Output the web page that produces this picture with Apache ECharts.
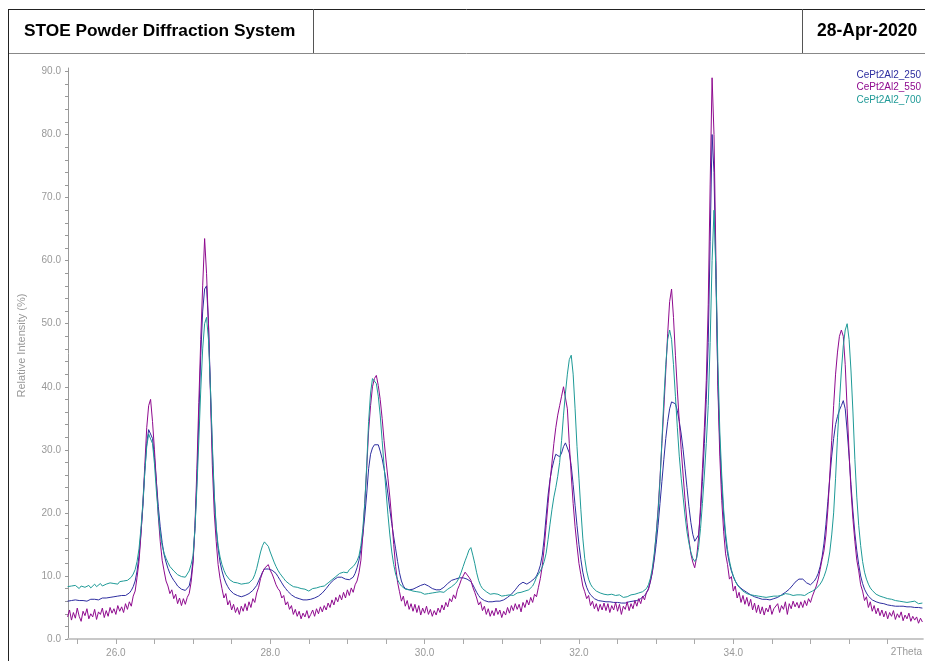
<!DOCTYPE html>
<html>
<head>
<meta charset="utf-8">
<title>STOE Powder Diffraction System</title>
<script src="https://cdn.jsdelivr.net/npm/echarts/dist/echarts.min.js"></script>
<style>
    html, body { margin: 0; padding: 0; background: #fff; }
    #chart { width: 925px; height: 661px; }
</style>
</head>
<body>
<div id="chart"></div>
<script>
// scan definition (2Theta start / step), as in the raw file
var scanStart = 25.375;
var scanStep = 0.025;

var seriesNames = ['CePt2Al2_250', 'CePt2Al2_550', 'CePt2Al2_700'];
var seriesColors = ['#2d2d9f', '#8e0a8e', '#1f9a97'];

// relative intensity (%), one value per step
var int250 = [
    6.0, 5.9, 6.1, 6.0, 6.2, 6.0, 6.1, 6.3, 6.1, 6.2, 6.0, 6.2, 6.3, 6.1, 6.3, 6.4, 6.2, 6.4, 6.5, 6.3,
    6.5, 6.4, 6.6, 6.5, 6.7, 6.6, 6.8, 6.7, 6.9, 7.0, 6.9, 7.1, 7.3, 7.7, 8.3, 9.2, 10.8, 13.2, 16.8, 21.0,
    26.5, 31.0, 33.2, 33.4, 31.8, 28.8, 25.0, 21.0, 17.8, 15.3, 13.4, 12.2, 11.2, 10.4, 9.8, 9.3, 8.9, 8.4, 8.2, 7.9,
    7.8, 7.7, 8.0, 8.4, 9.8, 12.5, 17.5, 25.0, 35.0, 45.0, 52.0, 55.5, 56.0, 50.0, 40.0, 30.0, 22.5, 17.5, 14.3, 12.2,
    10.8, 9.7, 8.9, 8.3, 7.8, 7.5, 7.2, 7.0, 6.9, 6.8, 6.7, 6.8, 6.9, 7.0, 7.2, 7.4, 7.7, 8.0, 8.5, 9.2,
    9.9, 10.6, 11.1, 11.3, 11.1, 10.9, 10.9, 10.7, 10.4, 9.9, 9.4, 8.9, 8.4, 8.0, 7.6, 7.3, 7.0, 6.8, 6.6, 6.5,
    6.4, 6.3, 6.2, 6.3, 6.2, 6.1, 6.3, 6.4, 6.5, 6.7, 6.8, 7.0, 7.3, 7.6, 8.0, 8.4, 8.8, 9.1, 9.4, 9.6,
    9.8, 9.9, 9.8, 9.6, 9.5, 9.4, 9.4, 9.5, 9.8, 10.4, 11.3, 12.5, 14.2, 16.5, 19.5, 23.0, 27.0, 29.3, 30.3, 30.8,
    31.1, 30.8, 29.8, 28.6, 27.0, 25.2, 23.0, 20.5, 18.3, 16.2, 14.3, 12.3, 10.5, 9.2, 8.4, 8.0, 7.8, 7.8, 7.7, 7.9,
    8.0, 8.2, 8.3, 8.5, 8.6, 8.7, 8.6, 8.4, 8.2, 8.0, 7.9, 7.8, 7.9, 7.8, 8.0, 8.2, 8.5, 8.8, 9.1, 9.3,
    9.4, 9.5, 9.6, 9.7, 9.6, 9.7, 9.6, 9.5, 9.4, 9.1, 8.6, 8.0, 7.4, 6.9, 6.5, 6.2, 6.1, 6.0, 5.9, 6.0,
    5.9, 5.8, 6.0, 5.9, 6.0, 6.1, 6.2, 6.4, 6.6, 6.8, 7.1, 7.4, 7.8, 8.2, 8.6, 8.9, 9.0, 8.9, 8.7, 8.9,
    9.1, 9.3, 9.6, 10.0, 10.7, 11.7, 13.3, 16.0, 19.5, 22.8, 25.3, 27.0, 28.3, 29.3, 29.3, 28.9, 29.5, 30.5, 31.1, 30.8,
    29.5, 27.5, 24.5, 21.2, 18.0, 15.0, 12.6, 10.6, 9.2, 8.2, 7.5, 7.0, 6.7, 6.4, 6.3, 6.1, 6.0, 6.0, 5.9, 5.9,
    5.8, 5.9, 5.7, 5.8, 5.7, 5.8, 5.6, 5.7, 5.8, 5.7, 5.8, 5.9, 5.8, 6.0, 6.1, 6.1, 6.3, 6.4, 6.6, 6.9,
    7.3, 8.0, 9.0, 10.5, 12.5, 15.0, 18.0, 21.5, 25.0, 28.5, 31.8, 34.5, 36.5, 37.6, 37.9, 37.3, 36.2, 34.5, 32.5, 30.0,
    27.0, 24.0, 21.0, 18.5, 16.6, 15.5, 15.3, 16.5, 20.0, 25.0, 31.0, 38.0, 47.0, 63.0, 80.0, 74.0, 57.0, 41.0, 31.0, 24.5,
    19.5, 16.0, 13.6, 12.0, 10.8, 9.9, 9.2, 8.7, 8.3, 8.0, 7.8, 7.6, 7.4, 7.2, 7.0, 6.9, 6.7, 6.6, 6.5, 6.4,
    6.3, 6.2, 6.3, 6.1, 6.2, 6.3, 6.4, 6.5, 6.6, 6.8, 7.0, 7.2, 7.4, 7.6, 7.9, 8.2, 8.6, 9.0, 9.3, 9.5,
    9.6, 9.5, 9.2, 8.9, 8.7, 8.6, 8.8, 9.2, 9.7, 10.4, 11.5, 13.0, 15.2, 18.2, 21.8, 25.5, 29.0, 31.8, 34.0, 35.3,
    36.3, 37.0, 37.8, 36.5, 33.0, 29.0, 24.5, 20.3, 16.8, 14.0, 11.8, 10.0, 8.8, 7.9, 7.3, 6.8, 6.5, 6.2, 6.0, 5.9,
    5.8, 5.7, 5.6, 5.6, 5.5, 5.4, 5.5, 5.3, 5.4, 5.2, 5.3, 5.2, 5.1, 5.2, 5.0, 5.1, 5.0, 5.1, 4.9, 5.0,
    4.9, 5.0, 4.8, 4.9
];
var int550 = [
    3.5, 4.6, 3.0, 4.2, 3.3, 4.9, 3.6, 2.8, 4.4, 3.7, 4.8, 3.2, 4.0, 3.5, 4.7, 3.1, 4.3, 3.9, 4.9, 3.4,
    4.5, 3.6, 5.0, 4.1, 4.8, 3.9, 5.3, 4.4, 5.1, 4.2, 5.6, 4.7, 5.9, 5.2, 6.8, 7.6, 9.8, 12.3, 16.5, 21.5,
    27.5, 33.5, 37.0, 38.0, 34.5, 30.0, 25.0, 19.5, 15.5, 12.5, 10.8, 9.2, 8.4, 7.2, 7.8, 6.4, 7.1, 5.6, 6.5, 5.3,
    6.4, 5.5, 6.6, 7.2, 9.0, 12.0, 18.0, 27.0, 37.5, 47.5, 56.0, 63.5, 58.0, 50.0, 39.0, 27.5, 20.0, 15.5, 11.8, 9.6,
    8.0, 6.5, 7.2, 5.4, 6.1, 4.6, 5.5, 4.2, 5.0, 3.9, 5.2, 4.4, 5.6, 4.5, 5.9, 5.0, 6.4, 5.8, 7.3, 8.2,
    9.6, 10.5, 11.2, 11.5, 11.8, 10.9, 10.3, 9.5, 8.6, 8.0, 7.6, 6.5, 6.9, 5.4, 5.9, 4.7, 5.3, 3.9, 4.7, 3.6,
    4.4, 3.2, 4.1, 3.5, 4.5, 3.3, 3.9, 4.6, 3.6, 4.8, 4.0, 5.1, 4.3, 5.3, 4.6, 5.7, 5.0, 6.2, 5.4, 6.6,
    5.9, 7.0, 6.2, 7.4, 6.5, 7.8, 6.9, 8.1, 7.4, 8.6, 9.2, 10.5, 12.5, 16.5, 21.5, 27.0, 33.0, 37.0, 40.0, 41.3,
    41.8, 40.2, 38.0, 35.0, 31.5, 28.4, 25.5, 22.5, 19.0, 15.0, 11.5, 9.0, 7.5, 6.0, 6.8, 5.2, 6.1, 4.7, 5.6, 4.4,
    5.5, 4.2, 5.3, 3.8, 4.9, 4.1, 5.2, 3.9, 4.7, 3.6, 4.5, 3.8, 4.9, 4.2, 5.4, 4.6, 5.8, 5.1, 6.4, 5.9,
    7.0, 6.4, 7.8, 8.5, 9.4, 10.0, 10.6, 10.3, 9.8, 9.3, 8.2, 7.4, 6.5, 5.4, 5.9, 4.5, 5.2, 3.9, 4.8, 3.6,
    4.5, 3.7, 4.9, 3.9, 4.6, 3.4, 4.4, 3.8, 5.0, 4.1, 5.3, 4.5, 5.6, 4.7, 5.5, 4.3, 5.8, 5.0, 6.2, 5.4,
    6.6, 5.8, 7.1, 6.7, 8.2, 9.6, 11.6, 14.5, 18.0, 21.5, 25.0, 27.9, 31.0, 33.5, 35.5, 37.0, 38.5, 40.0, 39.8, 36.5,
    31.0, 26.0, 21.5, 17.8, 14.8, 12.0, 10.2, 8.4, 7.5, 6.4, 6.9, 5.3, 6.0, 4.8, 5.6, 4.4, 5.5, 4.6, 5.7, 4.5,
    5.6, 4.2, 5.3, 4.6, 5.8, 4.4, 5.5, 3.9, 5.2, 4.7, 5.9, 4.5, 5.6, 4.8, 6.1, 5.2, 6.4, 5.6, 6.8, 6.2,
    7.4, 7.8, 9.2, 10.6, 13.0, 16.5, 20.5, 25.5, 31.0, 36.5, 42.5, 48.5, 53.5, 55.5, 51.0, 45.0, 39.5, 34.5, 30.0, 26.0,
    22.0, 18.5, 15.8, 13.5, 12.2, 11.3, 13.0, 16.0, 21.0, 27.0, 33.5, 41.0, 53.0, 72.0, 89.0, 80.0, 60.0, 40.0, 29.0, 22.0,
    17.0, 13.5, 11.8, 9.5, 9.9, 7.6, 8.4, 6.5, 7.4, 5.8, 6.9, 5.5, 6.6, 5.2, 6.3, 4.6, 5.7, 4.2, 5.4, 4.0,
    5.1, 3.8, 4.9, 4.3, 5.4, 3.9, 4.8, 4.5, 5.6, 4.2, 5.3, 4.7, 5.9, 3.9, 5.6, 4.8, 6.0, 5.1, 5.8, 4.9,
    5.9, 5.0, 6.1, 5.3, 6.4, 5.8, 6.8, 7.1, 8.4, 9.5, 11.0, 12.6, 14.0, 16.5, 20.5, 26.0, 31.5, 37.0, 42.0, 45.5,
    48.0, 49.0, 48.0, 43.5, 36.5, 29.5, 23.5, 19.0, 15.5, 12.5, 10.8, 8.6, 7.6, 6.1, 6.7, 5.0, 5.9, 4.4, 5.3, 4.0,
    4.9, 3.7, 4.6, 3.5, 4.4, 3.2, 4.2, 3.6, 4.5, 3.1, 4.0, 3.4, 4.3, 2.9, 3.8, 3.2, 4.1, 2.8, 3.6, 3.0,
    3.5, 2.5, 3.3, 2.7
];
var int700 = [
    8.3, 8.1, 8.4, 8.2, 8.5, 8.3, 8.0, 8.4, 8.6, 8.2, 8.3, 8.5, 8.1, 8.4, 8.7, 8.3, 8.5, 8.8, 8.4, 8.6,
    8.7, 8.5, 8.9, 8.6, 8.8, 9.0, 8.7, 9.1, 8.9, 9.2, 9.0, 9.3, 9.5, 9.8, 10.3, 11.0, 12.3, 14.3, 17.5, 21.5,
    26.5, 30.5, 32.5, 32.6, 31.0, 27.8, 23.5, 19.8, 16.8, 14.8, 13.6, 12.8, 12.1, 11.5, 11.2, 10.8, 10.6, 10.2, 10.4, 9.9,
    10.1, 9.8, 10.3, 10.8, 11.8, 13.2, 17.5, 24.0, 31.5, 39.5, 46.0, 50.0, 51.0, 47.5, 40.0, 31.0, 23.0, 17.8, 14.8, 13.0,
    11.8, 10.9, 10.2, 9.9, 9.4, 9.3, 9.0, 8.8, 8.9, 8.6, 8.7, 8.5, 8.8, 8.6, 8.9, 9.1, 9.5, 10.2, 11.2, 12.5,
    13.8, 14.8, 15.4, 15.3, 14.7, 13.8, 13.0, 12.2, 11.5, 10.9, 10.4, 10.0, 9.6, 9.2, 9.0, 8.7, 8.6, 8.3, 8.1, 8.2,
    7.9, 8.0, 7.7, 7.9, 7.8, 7.6, 7.9, 8.0, 7.8, 8.1, 8.0, 8.3, 8.2, 8.4, 8.6, 8.9, 9.1, 9.4, 9.6, 9.9,
    10.2, 10.4, 10.1, 10.6, 10.8, 10.5, 11.0, 11.3, 11.5, 11.9, 12.4, 13.2, 14.8, 17.5, 21.5, 27.5, 34.5, 39.0, 41.3, 41.5,
    40.5, 38.5, 35.5, 31.5, 27.5, 23.5, 19.8, 16.5, 13.8, 11.8, 10.3, 9.4, 8.8, 8.4, 8.1, 7.9, 7.7, 7.8, 7.5, 7.6,
    7.4, 7.5, 7.2, 7.4, 7.3, 7.1, 7.4, 7.2, 7.5, 7.3, 7.2, 7.4, 7.3, 7.5, 7.6, 7.4, 7.7, 7.9, 8.0, 8.3,
    8.5, 8.8, 9.2, 9.8, 10.6, 11.5, 12.4, 13.2, 14.1, 14.5, 13.3, 12.0, 10.5, 9.3, 8.5, 8.0, 7.7, 7.5, 7.3, 7.1,
    7.0, 7.2, 6.9, 7.1, 7.0, 6.8, 7.1, 6.9, 7.2, 7.0, 7.1, 6.9, 7.2, 7.3, 7.1, 7.4, 7.3, 7.6, 7.5, 7.8,
    8.0, 8.4, 9.0, 9.8, 10.3, 10.8, 11.4, 12.3, 13.6, 15.8, 18.2, 20.5, 22.5, 24.0, 25.8, 28.0, 31.5, 35.5, 39.0, 42.0,
    44.3, 45.0, 42.0, 36.5, 30.5, 25.5, 20.5, 16.0, 12.8, 10.8, 9.5, 8.7, 8.2, 7.9, 7.6, 7.5, 7.3, 7.4, 7.1, 7.2,
    7.0, 6.9, 7.1, 6.8, 6.9, 6.7, 7.0, 6.8, 6.6, 6.9, 6.7, 6.8, 7.0, 6.9, 7.1, 7.0, 7.3, 7.2, 7.5, 7.7,
    8.0, 8.6, 9.6, 11.2, 13.5, 16.5, 20.0, 25.0, 31.5, 38.0, 43.5, 47.5, 49.0, 47.5, 43.5, 38.5, 33.5, 29.0, 25.5, 22.5,
    19.5, 17.0, 15.2, 13.8, 12.8, 12.3, 12.8, 14.5, 17.5, 21.5, 26.0, 31.0, 37.0, 47.0, 60.0, 68.0, 58.0, 44.0, 33.0, 26.0,
    20.5, 16.8, 14.2, 12.4, 11.0, 10.0, 9.2, 8.6, 8.2, 7.9, 7.6, 7.5, 7.2, 7.3, 7.0, 7.1, 6.9, 7.0, 6.8, 6.9,
    6.7, 6.9, 6.6, 6.8, 6.7, 6.9, 6.8, 7.0, 6.8, 7.1, 6.9, 7.0, 7.2, 6.9, 7.1, 7.0, 6.9, 7.1, 7.0, 7.2,
    7.0, 7.1, 6.9, 7.2, 7.3, 7.5, 7.6, 7.8, 8.0, 8.3, 8.7, 9.2, 9.9, 10.8, 12.0, 13.8, 16.5, 20.0, 25.5, 32.0,
    37.5, 42.5, 46.5, 49.0, 50.0, 47.5, 42.5, 36.0, 28.5, 22.5, 18.0, 14.8, 12.3, 10.6, 9.5, 8.7, 8.1, 7.7, 7.4, 7.1,
    7.0, 6.8, 6.9, 6.6, 6.7, 6.4, 6.5, 6.3, 6.4, 6.1, 6.2, 6.0, 6.2, 5.9, 6.1, 5.8, 6.0, 5.9, 5.7, 6.0,
    5.8, 5.6, 5.9, 5.7
];

// tick marks and labels
var xTicks = [25.5, 26, 26.5, 27, 27.5, 28, 28.5, 29, 29.5, 30, 30.5, 31, 31.5, 32, 32.5, 33, 33.5, 34, 34.5, 35, 35.5, 36];
var xLabels = [26, 28, 30, 32, 34];
var yTicks = [0, 2, 4, 6, 8, 10, 12, 14, 16, 18, 20, 22, 24, 26, 28, 30, 32, 34, 36, 38, 40, 42, 44, 46,
    48, 50, 52, 54, 56, 58, 60, 62, 64, 66, 68, 70, 72, 74, 76, 78, 80, 82, 84, 86, 88, 90];
var yLabels = [0, 10, 20, 30, 40, 50, 60, 70, 80, 90];

(function () {
    var font = '"Liberation Sans", Arial, sans-serif';
    var mychart = echarts.init(document.getElementById('chart'));

    function toPoints(vals) {
        return vals.map(function (v, i) {
            return [scanStart + i * scanStep, v];
        });
    }

    var allData = [int250, int550, int700];
    var series = seriesNames.map(function (name, k) {
        return {
            name: name,
            type: 'line',
            showSymbol: false,
            data: toPoints(allData[k]),
            lineStyle: { color: seriesColors[k], width: 1 },
            itemStyle: { color: seriesColors[k] },
            emphasis: { disabled: true }
        };
    });

    var option = {
        animation: false,
        backgroundColor: '#fff',
        textStyle: { fontFamily: font },
        grid: {
            left: 68,
            right: 0,
            top: 68,
            bottom: 22
        },
        legend: {
            orient: 'vertical',
            right: -1,
            top: 65,
            itemGap: 2.5,
            itemWidth: 0,
            itemHeight: 10,
            icon: 'rect',
            itemStyle: { opacity: 0 },
            selectedMode: false,
            textStyle: { fontSize: 10, fontFamily: font },
            data: seriesNames.map(function (n, k) {
                return { name: n, textStyle: { color: seriesColors[k] } };
            })
        },
        xAxis: {
            type: 'value',
            min: 25.38,
            max: 36.456,
            name: '2Theta',
            nameLocation: 'end',
            nameGap: -32,
            nameTextStyle: {
                color: '#999',
                fontSize: 10,
                align: 'left',
                verticalAlign: 'top',
                padding: [8, 0, 0, 0]
            },
            axisLine: { lineStyle: { color: '#c8c8c8', width: 2 } },
            axisTick: {
                customValues: xTicks,
                length: 5,
                lineStyle: { color: '#aaa' }
            },
            axisLabel: {
                customValues: xLabels,
                color: '#999',
                fontSize: 10,
                margin: 9,
                formatter: function (v) { return v.toFixed(1); }
            },
            splitLine: { show: false }
        },
        yAxis: {
            type: 'value',
            min: 0,
            max: 90.55,
            name: 'Relative Intensity (%)',
            nameLocation: 'middle',
            nameGap: 41,
            nameTextStyle: { color: '#999', fontSize: 11, padding: [0, 0, 0, 16] },
            axisLine: { show: true, lineStyle: { color: '#999', width: 1 } },
            axisTick: {
                customValues: yTicks,
                length: 3,
                lineStyle: { color: '#999' }
            },
            axisLabel: {
                customValues: yLabels,
                color: '#999',
                fontSize: 10,
                margin: 7,
                formatter: function (v) { return v.toFixed(1); }
            },
            splitLine: { show: false }
        },
        graphic: [
            // header box
            { type: 'line', shape: { x1: 8, y1: 9.5, x2: 925, y2: 9.5 }, style: { stroke: '#222', lineWidth: 1 } },
            { type: 'line', shape: { x1: 8, y1: 53.5, x2: 925, y2: 53.5 }, style: { stroke: '#888', lineWidth: 1 } },
            { type: 'line', shape: { x1: 8.5, y1: 9, x2: 8.5, y2: 661 }, style: { stroke: '#222', lineWidth: 1 } },
            { type: 'line', shape: { x1: 313.5, y1: 9, x2: 313.5, y2: 53 }, style: { stroke: '#555', lineWidth: 1 } },
            { type: 'line', shape: { x1: 802.5, y1: 9, x2: 802.5, y2: 53 }, style: { stroke: '#555', lineWidth: 1 } },
            {
                type: 'text', x: 24, y: 31,
                style: {
                    text: 'STOE Powder Diffraction System',
                    fill: '#000', fontSize: 17.3, fontWeight: 'bold', fontFamily: font,
                    verticalAlign: 'middle'
                }
            },
            {
                type: 'text', x: 817, y: 31,
                style: {
                    text: '28-Apr-2020',
                    fill: '#000', fontSize: 17.5, fontWeight: 'bold', fontFamily: font,
                    verticalAlign: 'middle'
                }
            }
        ],
        series: series
    };
    mychart.setOption(option);
    window.addEventListener('resize', function () {
        mychart.resize();
    });
})();
</script>
</body>
</html>
